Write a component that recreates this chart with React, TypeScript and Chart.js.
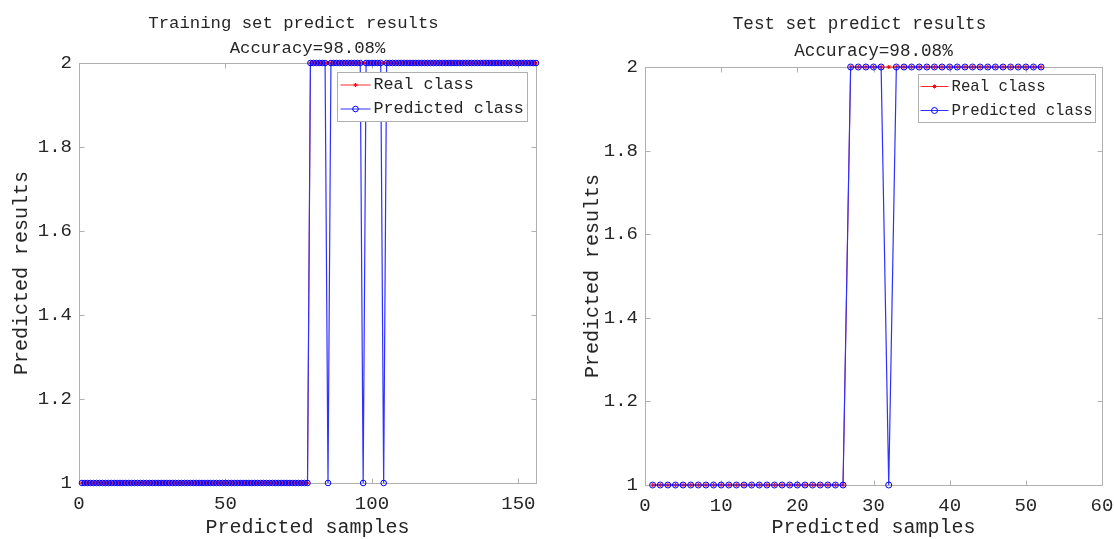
import { useEffect, useRef } from "react";
import { Chart, registerables } from "chart.js";

Chart.register(...registerables);

const FONT = "'Liberation Mono', 'DejaVu Sans Mono', monospace";
const TEXT = "#262626";
const AXIS = "#b0b0b0";

// ---- data ----
const seriesLabels = ["Real class", "Predicted class"];
const trainTitle = ["Training set predict results", "Accuracy=98.08%"];
const testTitle = ["Test set predict results", "Accuracy=98.08%"];
const xAxisTitle = "Predicted samples";
const yAxisTitle = "Predicted results";

const trainXTicks = [0, 50, 100, 150];
const testXTicks = [0, 10, 20, 30, 40, 50, 60];
const yTicks = [1, 1.2, 1.4, 1.6, 1.8, 2];

const trainReal = [
  1, 1, 1, 1, 1, 1, 1, 1, 1, 1, 1, 1, 1,
  1, 1, 1, 1, 1, 1, 1, 1, 1, 1, 1, 1, 1,
  1, 1, 1, 1, 1, 1, 1, 1, 1, 1, 1, 1, 1,
  1, 1, 1, 1, 1, 1, 1, 1, 1, 1, 1, 1, 1,
  1, 1, 1, 1, 1, 1, 1, 1, 1, 1, 1, 1, 1,
  1, 1, 1, 1, 1, 1, 1, 1, 1, 1, 1, 1, 1,
  2, 2, 2, 2, 2, 2, 2, 2, 2, 2, 2, 2, 2,
  2, 2, 2, 2, 2, 2, 2, 2, 2, 2, 2, 2, 2,
  2, 2, 2, 2, 2, 2, 2, 2, 2, 2, 2, 2, 2,
  2, 2, 2, 2, 2, 2, 2, 2, 2, 2, 2, 2, 2,
  2, 2, 2, 2, 2, 2, 2, 2, 2, 2, 2, 2, 2,
  2, 2, 2, 2, 2, 2, 2, 2, 2, 2, 2, 2, 2,
];

const trainPred = [
  1, 1, 1, 1, 1, 1, 1, 1, 1, 1, 1, 1, 1,
  1, 1, 1, 1, 1, 1, 1, 1, 1, 1, 1, 1, 1,
  1, 1, 1, 1, 1, 1, 1, 1, 1, 1, 1, 1, 1,
  1, 1, 1, 1, 1, 1, 1, 1, 1, 1, 1, 1, 1,
  1, 1, 1, 1, 1, 1, 1, 1, 1, 1, 1, 1, 1,
  1, 1, 1, 1, 1, 1, 1, 1, 1, 1, 1, 1, 1,
  2, 2, 2, 2, 2, 2, 1, 2, 2, 2, 2, 2, 2,
  2, 2, 2, 2, 2, 1, 2, 2, 2, 2, 2, 2, 1,
  2, 2, 2, 2, 2, 2, 2, 2, 2, 2, 2, 2, 2,
  2, 2, 2, 2, 2, 2, 2, 2, 2, 2, 2, 2, 2,
  2, 2, 2, 2, 2, 2, 2, 2, 2, 2, 2, 2, 2,
  2, 2, 2, 2, 2, 2, 2, 2, 2, 2, 2, 2, 2,
];

const testReal = [
  1, 1, 1, 1, 1, 1, 1, 1, 1, 1, 1, 1, 1,
  1, 1, 1, 1, 1, 1, 1, 1, 1, 1, 1, 1, 1,
  2, 2, 2, 2, 2, 2, 2, 2, 2, 2, 2, 2, 2,
  2, 2, 2, 2, 2, 2, 2, 2, 2, 2, 2, 2, 2,
];

const testPred = [
  1, 1, 1, 1, 1, 1, 1, 1, 1, 1, 1, 1, 1,
  1, 1, 1, 1, 1, 1, 1, 1, 1, 1, 1, 1, 1,
  2, 2, 2, 2, 2, 1, 2, 2, 2, 2, 2, 2, 2,
  2, 2, 2, 2, 2, 2, 2, 2, 2, 2, 2, 2, 2,
];

// ---- plugins ----
const boxPlugin = {
  id: "matlabBox",
  beforeDatasetsDraw(chart: any) {
    const { ctx, chartArea: a, scales } = chart;
    const x = scales.x;
    const y = scales.y;
    const L = 5;
    ctx.save();
    ctx.strokeStyle = AXIS;
    ctx.lineWidth = 1;
    const l = Math.round(a.left) + 0.5;
    const r = Math.round(a.right) + 0.5;
    const t = Math.round(a.top) + 0.5;
    const b = Math.round(a.bottom) + 0.5;
    ctx.strokeRect(l, t, r - l, b - t);
    ctx.beginPath();
    x.ticks.forEach((tk: any) => {
      const px = Math.round(x.getPixelForValue(tk.value)) + 0.5;
      ctx.moveTo(px, b);
      ctx.lineTo(px, b - L);
      ctx.moveTo(px, t);
      ctx.lineTo(px, t + L);
    });
    y.ticks.forEach((tk: any) => {
      const py = Math.round(y.getPixelForValue(tk.value)) + 0.5;
      ctx.moveTo(l, py);
      ctx.lineTo(l + L, py);
      ctx.moveTo(r, py);
      ctx.lineTo(r - L, py);
    });
    ctx.stroke();
    ctx.restore();
  },
};

// two-line title centred over the axes (first line sits a little to the left, as in the source)
const titlePlugin = {
  id: "matlabTitle",
  afterDraw(chart: any, _args: any, o: any) {
    const { ctx, chartArea: a } = chart;
    const cx = (a.left + a.right) / 2;
    ctx.save();
    ctx.fillStyle = TEXT;
    ctx.font = `normal ${o.fontSize}px ${FONT}`;
    ctx.textAlign = "center";
    ctx.textBaseline = "middle";
    ctx.fillText(o.lines[0], cx + o.dx1, o.y1);
    ctx.fillText(o.lines[1], cx + o.dx2, o.y2);
    ctx.restore();
  },
};

const legendPlugin = {
  id: "matlabLegend",
  afterDraw(chart: any, _args: any, o: any) {
    const { ctx, chartArea: a } = chart;
    const bx = Math.round(a.right - o.marginRight - o.width) + 0.5;
    const by = Math.round(a.top + o.marginTop) + 0.5;
    ctx.save();
    ctx.fillStyle = "#ffffff";
    ctx.fillRect(bx, by, o.width, o.height);
    ctx.strokeStyle = AXIS;
    ctx.lineWidth = 1;
    ctx.strokeRect(bx, by, o.width, o.height);
    ctx.font = `normal ${o.fontSize}px ${FONT}`;
    ctx.textBaseline = "middle";
    ctx.textAlign = "left";
    const rows = [o.row1, o.row2];
    chart.data.datasets.forEach((ds: any, i: number) => {
      const cy = by + rows[i];
      const x0 = bx + o.lineStart;
      const x1 = bx + o.lineEnd;
      const cx = (x0 + x1) / 2;
      ctx.strokeStyle = ds.borderColor;
      ctx.lineWidth = 1;
      ctx.beginPath();
      ctx.moveTo(x0, cy);
      ctx.lineTo(x1, cy);
      ctx.stroke();
      ctx.strokeStyle = ds.pointBorderColor;
      ctx.beginPath();
      if (ds.pointStyle === "circle") {
        ctx.arc(cx, cy, ds.pointRadius, 0, Math.PI * 2);
      } else {
        const r = ds.pointRadius;
        const d = r * Math.SQRT1_2;
        ctx.moveTo(cx - r, cy);
        ctx.lineTo(cx + r, cy);
        ctx.moveTo(cx, cy - r);
        ctx.lineTo(cx, cy + r);
        ctx.moveTo(cx - d, cy - d);
        ctx.lineTo(cx + d, cy + d);
        ctx.moveTo(cx - d, cy + d);
        ctx.lineTo(cx + d, cy - d);
      }
      ctx.stroke();
      ctx.fillStyle = TEXT;
      ctx.fillText(ds.label, bx + o.textX, cy);
    });
    ctx.restore();
  },
};

type PanelCfg = {
  real: number[];
  pred: number[];
  xMax: number;
  xTicks: number[];
  padRight: number;
  padTop: number;
  xAxisH: number;
  yTitlePad: number;
  circleR: number;
  title: any;
  legend: any;
};

function makeConfig(p: PanelCfg): any {
  return {
    type: "line",
    data: {
      datasets: [
        {
          label: seriesLabels[0],
          data: p.real.map((v, i) => ({ x: i + 1, y: v })),
          borderColor: "#ff2a2a",
          backgroundColor: "#ff0000",
          borderWidth: 1,
          pointStyle: "star",
          pointRadius: 2,
          pointBorderWidth: 1,
          pointBorderColor: "#ff0000",
          pointBackgroundColor: "#ff0000",
          tension: 0,
          fill: false,
          clip: false,
          order: 2,
        },
        {
          label: seriesLabels[1],
          data: p.pred.map((v, i) => ({ x: i + 1, y: v })),
          borderColor: "#3030ff",
          backgroundColor: "rgba(0,0,0,0)",
          borderWidth: 1.2,
          pointStyle: "circle",
          pointRadius: p.circleR,
          pointBorderWidth: 1,
          pointBorderColor: "#0000ff",
          pointBackgroundColor: "rgba(0,0,0,0)",
          tension: 0,
          fill: false,
          clip: false,
          order: 1,
        },
      ],
    },
    options: {
      responsive: false,
      animation: false,
      events: [],
      layout: { padding: { left: 0, right: p.padRight, top: p.padTop, bottom: 0 } },
      plugins: {
        legend: { display: false },
        tooltip: { enabled: false },
        title: { display: false },
        matlabTitle: p.title,
        matlabLegend: p.legend,
      },
      scales: {
        x: {
          type: "linear",
          min: 0,
          max: p.xMax,
          afterBuildTicks: (s: any) => {
            s.ticks = p.xTicks.map((v) => ({ value: v }));
          },
          afterFit: (s: any) => {
            s.height = p.xAxisH;
            s.paddingLeft = 0;
            s.paddingRight = 0;
          },
          grid: { display: false, drawTicks: false },
          border: { display: false },
          ticks: {
            padding: 10,
            color: TEXT,
            maxRotation: 0,
            autoSkip: false,
            font: { family: FONT, size: 19 },
            callback: (v: any) => String(v),
          },
          title: {
            display: true,
            text: xAxisTitle,
            color: TEXT,
            font: { family: FONT, size: 20, lineHeight: 1 },
            padding: { top: 0, bottom: 1 },
          },
        },
        y: {
          type: "linear",
          min: 1,
          max: 2,
          afterBuildTicks: (s: any) => {
            s.ticks = yTicks.map((v) => ({ value: v }));
          },
          afterFit: (s: any) => {
            s.width = 79;
            s.paddingTop = 0;
            s.paddingBottom = 0;
          },
          grid: { display: false, drawTicks: false },
          border: { display: false },
          ticks: {
            padding: 7,
            color: TEXT,
            autoSkip: false,
            font: { family: FONT, size: 19 },
            callback: (v: any) => String(v),
          },
          title: {
            display: true,
            text: yAxisTitle,
            color: TEXT,
            font: { family: FONT, size: 20, lineHeight: 1.2 },
            padding: { top: p.yTitlePad, bottom: 0 },
          },
        },
      },
    },
    plugins: [boxPlugin, legendPlugin, titlePlugin],
  };
}

export default function App() {
  const ref1 = useRef<HTMLCanvasElement>(null);
  const ref2 = useRef<HTMLCanvasElement>(null);

  useEffect(() => {
    const c1 = new Chart(
      ref1.current as HTMLCanvasElement,
      makeConfig({
        real: trainReal,
        pred: trainPred,
        xMax: 156,
        xTicks: trainXTicks,
        padRight: 21,
        padTop: 63,
        xAxisH: 56,
        yTitlePad: 10,
        circleR: 2.8,
        title: { lines: trainTitle, fontSize: 17.3, dx1: -14, dx2: 0, y1: 23, y2: 48.5 },
        legend: {
          marginRight: 9,
          marginTop: 9,
          width: 190,
          height: 49,
          row1: 12.5,
          row2: 36.5,
          lineStart: 3,
          lineEnd: 33,
          textX: 36,
          fontSize: 16.7,
        },
      })
    );
    const c2 = new Chart(
      ref2.current as HTMLCanvasElement,
      makeConfig({
        real: testReal,
        pred: testPred,
        xMax: 60,
        xTicks: testXTicks,
        padRight: 12,
        padTop: 67,
        xAxisH: 54,
        yTitlePad: 15,
        circleR: 3,
        title: { lines: testTitle, fontSize: 17.6, dx1: -14, dx2: 0, y1: 24.5, y2: 51 },
        legend: {
          marginRight: 7,
          marginTop: 7,
          width: 177,
          height: 48,
          row1: 12,
          row2: 36,
          lineStart: 2,
          lineEnd: 30,
          textX: 33,
          fontSize: 15.7,
        },
      })
    );
    return () => {
      c1.destroy();
      c2.destroy();
    };
  }, []);

  return (
    <div
      style={{
        position: "absolute",
        left: 0,
        top: 0,
        width: 1114,
        height: 539,
        background: "#ffffff",
        overflow: "hidden",
      }}
    >
      <canvas
        ref={ref1}
        width={557}
        height={539}
        style={{ position: "absolute", left: 0, top: 0, width: 557, height: 539 }}
      />
      <canvas
        ref={ref2}
        width={548}
        height={539}
        style={{ position: "absolute", left: 566, top: 0, width: 548, height: 539 }}
      />
    </div>
  );
}
